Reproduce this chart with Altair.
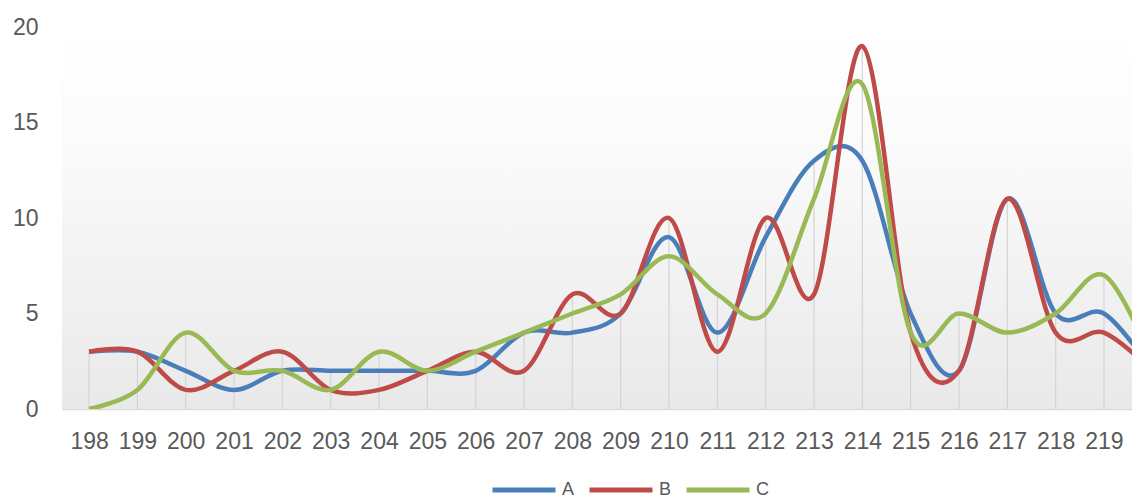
import altair as alt
import pandas as pd

years = list(range(198, 221))
series_a = [3, 3, 2, 1, 2, 2, 2, 2, 2, 4, 4, 5, 9, 4, 9, 13, 13, 5, 2, 11, 5, 5, 2]
series_b = [3, 3, 1, 2, 3, 1, 1, 2, 3, 2, 6, 5, 10, 3, 10, 6, 19, 4, 2, 11, 4, 4, 2]
series_c = [0, 1, 4, 2, 2, 1, 3, 2, 3, 4, 5, 6, 8, 6, 5, 11, 17, 4, 5, 4, 5, 7, 2.5]
names = ["A", "B", "C"]
colors = ["#4A7EBB", "#BE4B48", "#98B954"]
tick_years = list(range(198, 220))
y_ticks = [0, 5, 10, 15, 20]

rows = []
for name, vals in zip(names, [series_a, series_b, series_c]):
    for yr, v in zip(years, vals):
        rows.append({"year": yr, "series": name, "value": v})
df = pd.DataFrame(rows)

drop = pd.DataFrame({
    "year": years,
    "top": [max(a, b, c) for a, b, c in zip(series_a, series_b, series_c)],
})

W, H = 1070, 382
FONT = "Liberation Sans"
LABEL = "#595959"

xscale = alt.Scale(domain=[197.44, 219.58], nice=False, zero=False)
yscale = alt.Scale(domain=[0, 20], nice=False)

bg = alt.Chart(alt.Data(values=[{"k": 1}])).mark_rect(
    color=alt.Gradient(
        gradient="linear",
        stops=[alt.GradientStop(color="#ffffff", offset=0),
               alt.GradientStop(color="#fbfbfb", offset=0.3),
               alt.GradientStop(color="#e9e9e9", offset=1)],
        x1=0, x2=0, y1=0, y2=1,
    )
).encode(x=alt.value(0), x2=alt.value(W), y=alt.value(0), y2=alt.value(H))

rules = alt.Chart(drop).mark_rule(color="#d4d4d4", strokeWidth=1.2, clip=True).encode(
    x=alt.X("year:Q", scale=xscale),
    y=alt.Y("top:Q", scale=yscale),
    y2=alt.datum(0),
)

lines = alt.Chart(df).mark_line(
    interpolate="cardinal", tension=0, strokeWidth=4.5, clip=True
).encode(
    x=alt.X("year:Q", scale=xscale, title=None,
            axis=alt.Axis(values=tick_years, format="d", grid=False, ticks=False,
                          domain=True, domainColor="#d9d9d9", domainWidth=1.5,
                          labelFont=FONT, labelFontSize=23, labelColor=LABEL,
                          labelPadding=21, labelOverlap=False, labelFlush=False,
                          labelBound=False)),
    y=alt.Y("value:Q", scale=yscale, title=None,
            axis=alt.Axis(values=y_ticks, grid=False, ticks=False, domain=False,
                          labelFont=FONT, labelFontSize=23, labelColor=LABEL,
                          labelPadding=24)),
    color=alt.Color("series:N",
                    scale=alt.Scale(domain=names, range=colors),
                    legend=alt.Legend(title=None, orient="none", direction="horizontal",
                                      legendX=428, legendY=429,
                                      symbolType="stroke", symbolSize=3969,
                                      symbolStrokeWidth=5, labelFont=FONT,
                                      labelFontSize=18, labelColor=LABEL,
                                      labelOffset=4, columnPadding=4)),
    order=alt.Order("year:Q"),
)

chart = alt.layer(bg, rules, lines).properties(
    width=W, height=H,
    padding={"left": 62, "top": 27, "right": 0, "bottom": 91},
    autosize=alt.AutoSizeParams(type="none"),
    background="#ffffff",
).configure_view(strokeWidth=0)

chart.save("out.html", embed_options={"renderer": "svg", "actions": False})
